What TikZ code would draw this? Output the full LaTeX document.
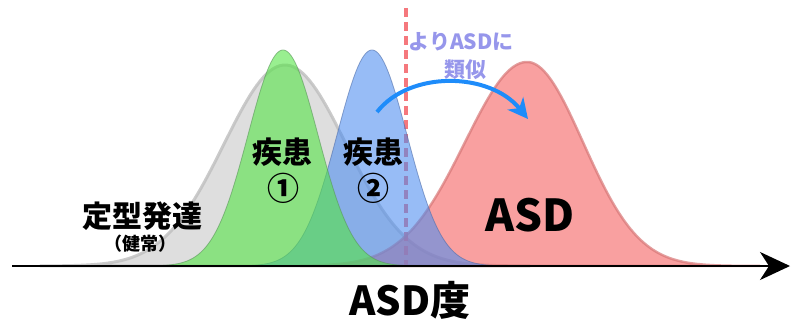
\documentclass[tikz,border=0pt]{standalone}
\usepackage{fontspec}
\setmainfont{Noto Sans CJK JP}[BoldFont={Noto Sans CJK JP Black}]
\usetikzlibrary{arrows.meta}
\definecolor{grayfill}{RGB}{222,222,222}
\definecolor{grayline}{RGB}{190,190,190}
\definecolor{greenbase}{RGB}{85,228,70}
\definecolor{greenline}{RGB}{90,150,90}
\definecolor{bluebase}{RGB}{75,140,240}
\definecolor{blueline}{RGB}{80,110,170}
\definecolor{redbase}{RGB}{245,97,97}
\definecolor{redline}{RGB}{215,120,120}
\definecolor{dashcol}{RGB}{245,120,125}
\definecolor{arrowblue}{RGB}{30,140,250}
\definecolor{simtext}{RGB}{150,150,235}
\tikzset{
  bellgray/.style={fill=grayfill, draw=grayline, line width=3pt, draw opacity=0.8},
  bellgreen/.style={fill=greenbase, fill opacity=0.6, draw=greenline, draw opacity=0.6, line width=0.8pt},
  bellblue/.style={fill=bluebase, fill opacity=0.58, draw=blueline, draw opacity=0.6, line width=0.8pt},
  bellred/.style={fill=redbase, fill opacity=0.6, draw=redline, draw opacity=0.7, line width=2.5pt},
  lbl/.style={font=\fontsize{30}{30}\selectfont\bfseries, text=black, inner sep=0pt},
}
\begin{document}
\begin{tikzpicture}[x=1pt, y=-1pt]
\useasboundingbox (0,0) rectangle (791,322);
% gray: typical development
\draw[bellgray] plot[domain=40:530, samples=150] (\x,{266-201*exp(-0.5*((\x-285)/61)^2)}) -- cycle;
% dashed line
\coordinate (dtop) at (406,8);
\coordinate (dbot) at (406,266);
\draw[dashcol, line width=3.5pt, dash pattern=on 9pt off 5pt] (dtop) -- (dbot);
% red: ASD (asymmetric)
\draw[bellred] plot[domain=300:527, samples=100] (\x,{266-204*exp(-0.5*((\x-527)/62)^2)})
   -- plot[domain=527:760, samples=100] (\x,{266-204*exp(-0.5*((\x-527)/56)^2)}) -- cycle;
% blue: disease 2
\draw[bellblue] plot[domain=232:512, samples=150] (\x,{266-216*exp(-0.5*((\x-372)/35)^2)}) -- cycle;
% green: disease 1
\draw[bellgreen] plot[domain=143:423, samples=150] (\x,{266-216*exp(-0.5*((\x-283)/35)^2)}) -- cycle;
% axis
\coordinate (ax0) at (12,266);
\coordinate (ax1) at (790,266);
\draw[line width=2.2pt, -{Stealth[length=30pt, width=28pt, inset=9pt]}] (ax0) -- (ax1);
% arrow
\coordinate (arS) at (377,112);
\coordinate (arE) at (528,119);
\draw[arrowblue, line width=4pt, -{Stealth[length=20pt, width=20pt, inset=6pt]}] (arS) .. controls (410,70) and (490,72) .. (arE);
% labels
\node[lbl] (typ) at (142,216) {定型発達};
\node[lbl, font=\fontsize{18}{18}\selectfont\bfseries] (healthy) at (140,244) {（健常）};
\node[lbl] (d1) at (282,152) {疾患};
\node[lbl, font=\fontsize{32}{32}\selectfont\bfseries] (d1n) at (283,188) {①};
\node[lbl] (d2) at (373,152) {疾患};
\node[lbl, font=\fontsize{32}{32}\selectfont\bfseries] (d2n) at (373,188) {②};
\node[lbl, font=\fontsize{44}{44}\selectfont\bfseries] (asd) at (530,215) {ASD};
\node[lbl, font=\fontsize{40}{40}\selectfont\bfseries] (asdx) at (410,300) {ASD度};
\node[lbl, font=\fontsize{21}{21}\selectfont\bfseries, text=simtext] (sim1) at (461,42) {よりASDに};
\node[lbl, font=\fontsize{21}{21}\selectfont\bfseries, text=simtext] (sim2) at (465,70) {類似};
\end{tikzpicture}
\end{document}
